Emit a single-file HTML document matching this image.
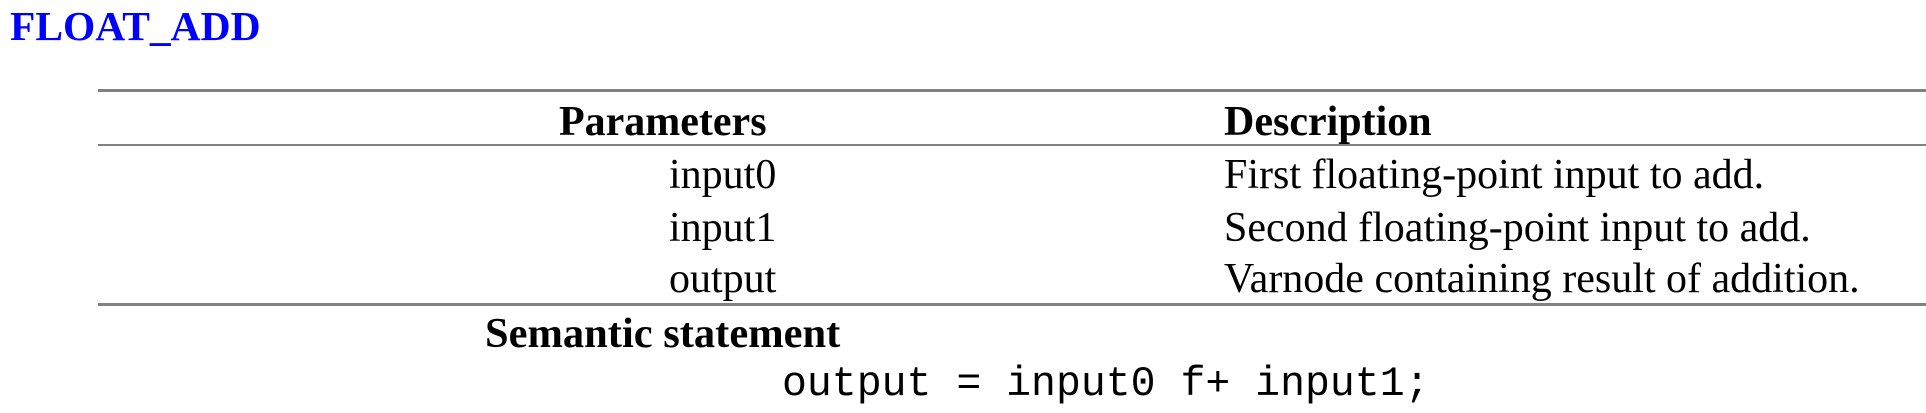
<!DOCTYPE html>
<html><head><style>
body{margin:0;width:1926px;height:413px;background:#fff;position:relative;overflow:hidden;font-family:"Liberation Serif",serif;}
.t{position:absolute;white-space:nowrap;line-height:1;}
.l{position:absolute;left:98px;width:1828px;height:3px;background:#808080;}
</style></head><body>
<div class="t" style="left:10px;top:6px;font-size:41.5px;font-weight:bold;color:#0000ff;">FLOAT_ADD</div>
<div class="l" style="top:89px;"></div>
<div class="t" style="left:559px;top:101px;font-size:42px;font-weight:bold;">Parameters</div>
<div class="t" style="left:1224px;top:101px;font-size:42px;font-weight:bold;">Description</div>
<div class="l" style="top:144px;height:2px;"></div>
<div class="t" style="left:669px;top:154px;font-size:42px;">input0</div>
<div class="t" style="left:1224px;top:154px;font-size:42px;">First floating-point input to add.</div>
<div class="t" style="left:669px;top:207px;font-size:42px;">input1</div>
<div class="t" style="left:1224px;top:207px;font-size:42px;">Second floating-point input to add.</div>
<div class="t" style="left:669px;top:258px;font-size:42px;">output</div>
<div class="t" style="left:1224px;top:258px;font-size:42px;">Varnode containing result of addition.</div>
<div class="l" style="top:303px;"></div>
<div class="t" style="left:485px;top:313px;font-size:42.5px;font-weight:bold;">Semantic statement</div>
<div class="t" style="left:782px;top:364px;font-size:41.5px;font-family:'Liberation Mono',monospace;">output = input0 f+ input1;</div>
</body></html>
